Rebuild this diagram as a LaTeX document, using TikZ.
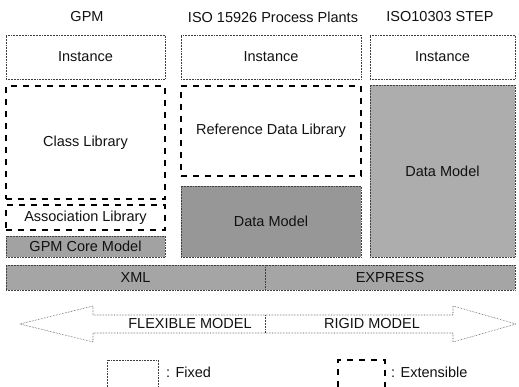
\documentclass[tikz,border=0pt]{standalone}
\usepackage{fontspec}
\setmainfont{Liberation Sans}
\usetikzlibrary{positioning}
\definecolor{mdInk}{HTML}{111111}
\definecolor{mdLine}{HTML}{404040}
\definecolor{mdCore}{HTML}{A2A2A2}
\definecolor{mdData}{HTML}{979797}
\definecolor{mdStep}{HTML}{ADADAD}
\definecolor{mdBase}{HTML}{A5A5A5}
\tikzset{
 layers/.style={font=\fontsize{14.5}{16}\selectfont,text=mdInk,line cap=butt},
 fixedbox/.style={rectangle,draw=mdLine,densely dotted,line width=.55pt,inner sep=0pt},
 extbox/.style={rectangle,draw=black,line width=1.7pt,dash pattern=on 6pt off 6pt,inner sep=0pt},
 grayboxA/.style={fixedbox,fill=mdCore},
 grayboxB/.style={fixedbox,fill=mdData},
 grayboxC/.style={fixedbox,fill=mdStep},
 basebox/.style={fixedbox,fill=mdBase,minimum height=25pt},
 fixedline/.style={draw=mdLine,densely dotted,line width=.55pt},
 extline/.style={draw=black,line width=1.7pt,dash pattern=on 6pt off 6pt},
 keytext/.style={anchor=west,inner sep=0pt}
}

\begin{document}
\begin{tikzpicture}[layers,x=1pt,y=-1pt]
 \useasboundingbox (0,0) rectangle (519,387);
 % column titles
 \node (gpmtitle) at (87,17) {GPM};
 \node (plantstitle) at (273,17) {ISO 15926 Process Plants};
 \node (steptitle) at (440,17) {ISO10303 STEP};
 % GPM column
 \node[fixedbox,minimum width=159pt,minimum height=44pt] (inst1) at (85.5,57) {Instance};
 \node[extbox,minimum width=159pt,minimum height=113pt] (classlib) at (85.5,142.5) {Class Library};
 \node[extbox,minimum width=159pt,minimum height=25pt] (assoclib) at (85.5,217.5) {Association Library};
 \node[grayboxA,minimum width=159pt,minimum height=21pt] (gpmcore) at (85.5,246.5) {GPM Core Model};
 % ISO 15926 column
 \node[fixedbox,minimum width=180pt,minimum height=44pt] (inst2) at (271,57) {Instance};
 \node[extbox,minimum width=180pt,minimum height=90pt] (refdata) at (271,131) {Reference Data Library};
 \node[grayboxB,minimum width=180pt,minimum height=71pt] (datamodel2) at (271,221.5) {Data Model};
 % ISO 10303 column
 \node[fixedbox,minimum width=145pt,minimum height=44pt] (inst3) at (442.5,57) {Instance};
 \node[grayboxC,minimum width=145pt,minimum height=172pt] (datamodel3) at (442.5,171) {Data Model};
 % languages
 \node[basebox,minimum width=259pt] (xml) at (135.5,277.5) {XML};
 \node[basebox,minimum width=250pt] (express) at (390,277.5) {EXPRESS};
 % scale arrow
 \draw[fixedline] (20,324) -- (93,306) -- (93,315) -- (453,315) -- (453,306) -- (516,324)
   -- (453,342) -- (453,333) -- (93,333) -- (93,342) -- cycle;
 \draw[fixedline] (265,315) -- (265,333);
 \node (flexible) at (190,324) {FLEXIBLE MODEL};
 \node (rigid) at (372,324) {RIGID MODEL};
 % key
 \draw[fixedline] (107,387) -- (107,360) -- (158,360) -- (158,387);
 \node[keytext] (fixedkey) at (166,372) {: Fixed};
 \draw[extline] (338,387) -- (338,360) -- (385,360) -- (385,387);
 \node[keytext] (extkey) at (391,372) {: Extensible};
\end{tikzpicture}
\end{document}
